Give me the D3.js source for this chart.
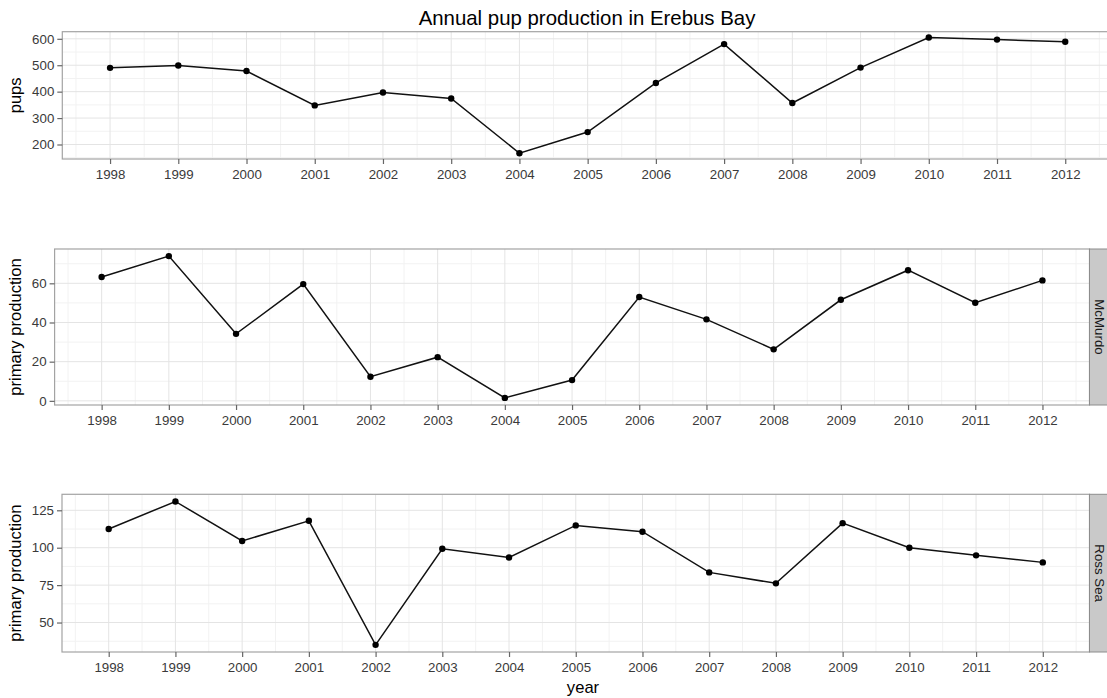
<!DOCTYPE html>
<html>
<head>
<meta charset="UTF-8">
<title>Annual pup production in Erebus Bay</title>
<script src="https://cdn.jsdelivr.net/npm/d3@7"></script>
<style>
  body { margin: 0; background: #fff; overflow: hidden; }
  svg { display: block; font-family: "Liberation Sans", Arial, sans-serif; }
</style>
</head>
<body>
<div id="chart"></div>
<script>
// data
const years = [1998, 1999, 2000, 2001, 2002, 2003, 2004, 2005, 2006, 2007, 2008, 2009, 2010, 2011, 2012];
const pups = [490, 499, 478, 348, 397, 374, 167, 247, 433, 580, 357, 491, 605, 597, 589];
const mcmurdo = [63.2, 73.9, 34.2, 59.6, 12.3, 22.3, 1.5, 10.6, 53.0, 41.6, 26.3, 51.6, 66.7, 50.1, 61.5];
const rossSea = [112.5, 130.9, 104.5, 118.0, 35.1, 99.3, 93.5, 114.9, 110.7, 83.5, 76.2, 116.4, 100.0, 94.9, 90.2];
const pupTicks = [200, 300, 400, 500, 600];
const mcmurdoTicks = [0, 20, 40, 60];
const rossTicks = [50, 75, 100, 125];

const W = 1107, H = 698;
const svg = d3.select("#chart").append("svg").attr("width", W).attr("height", H);

svg.append("text")
  .attr("x", 587).attr("y", 25)
  .attr("text-anchor", "middle")
  .attr("font-size", "20.4px").attr("fill", "#000")
  .text("Annual pup production in Erebus Bay");

const panels = [
  { values: pups, ticks: pupTicks, label: "pups", strip: null,
    left: 62.3, right: 1113, top: 31.7, bottom: 159 },
  { values: mcmurdo, ticks: mcmurdoTicks, label: "primary production", strip: "McMurdo",
    left: 54.6, right: 1089.5, top: 249, bottom: 405 },
  { values: rossSea, ticks: rossTicks, label: "primary production", strip: "Ross Sea",
    left: 62, right: 1089.5, top: 494.3, bottom: 652 }
];

panels.forEach(p => {
  const xExt = d3.extent(years), yExt = d3.extent(p.values);
  const xPad = (xExt[1] - xExt[0]) * 0.05, yPad = (yExt[1] - yExt[0]) * 0.05;
  const x = d3.scaleLinear().domain([xExt[0] - xPad, xExt[1] + xPad]).range([p.left, p.right]);
  const y = d3.scaleLinear().domain([yExt[0] - yPad, yExt[1] + yPad]).range([p.bottom, p.top]);

  const g = svg.append("g");
  const clipId = "clip" + Math.round(p.top);
  g.append("clipPath").attr("id", clipId).append("rect")
    .attr("x", p.left).attr("y", p.top).attr("width", p.right - p.left).attr("height", p.bottom - p.top);

  const plot = g.append("g").attr("clip-path", `url(#${clipId})`);
  plot.append("rect")
    .attr("x", p.left).attr("y", p.top).attr("width", p.right - p.left).attr("height", p.bottom - p.top)
    .attr("fill", "#fff");

  // minor grid
  const step = p.ticks[1] - p.ticks[0];
  const yMinor = d3.range(p.ticks[0] - step / 2, p.ticks[p.ticks.length - 1] + step, step);
  const xMinor = d3.range(years[0] - 0.5, years[years.length - 1] + 1, 1);
  plot.selectAll(".ymin").data(yMinor).join("line")
    .attr("x1", p.left).attr("x2", p.right).attr("y1", d => y(d)).attr("y2", d => y(d))
    .attr("stroke", "#f2f2f2").attr("stroke-width", 1);
  plot.selectAll(".xmin").data(xMinor).join("line")
    .attr("y1", p.top).attr("y2", p.bottom).attr("x1", d => x(d)).attr("x2", d => x(d))
    .attr("stroke", "#f2f2f2").attr("stroke-width", 1);
  // major grid
  plot.selectAll(".ymaj").data(p.ticks).join("line")
    .attr("x1", p.left).attr("x2", p.right).attr("y1", d => y(d)).attr("y2", d => y(d))
    .attr("stroke", "#e4e4e4").attr("stroke-width", 1);
  plot.selectAll(".xmaj").data(years).join("line")
    .attr("y1", p.top).attr("y2", p.bottom).attr("x1", d => x(d)).attr("x2", d => x(d))
    .attr("stroke", "#e4e4e4").attr("stroke-width", 1);

  // series
  const pts = years.map((yr, i) => [yr, p.values[i]]);
  plot.append("path").datum(pts)
    .attr("fill", "none").attr("stroke", "#111").attr("stroke-width", 1.5)
    .attr("d", d3.line().x(d => x(d[0])).y(d => y(d[1])));
  plot.selectAll(".pt").data(pts).join("circle")
    .attr("cx", d => x(d[0])).attr("cy", d => y(d[1])).attr("r", 3.2)
    .attr("fill", "#000");

  // border
  g.append("rect")
    .attr("x", p.left).attr("y", p.top).attr("width", p.right - p.left).attr("height", p.bottom - p.top)
    .attr("fill", "none").attr("stroke", "#a3a3a3").attr("stroke-width", 1.2);

  // axes
  const xAxis = g.append("g").attr("transform", `translate(0,${p.bottom})`)
    .call(d3.axisBottom(x).tickValues(years).tickFormat(d3.format("d")).tickSize(5).tickPadding(6));
  const yAxis = g.append("g").attr("transform", `translate(${p.left},0)`)
    .call(d3.axisLeft(y).tickValues(p.ticks).tickSize(5).tickPadding(3));
  [xAxis, yAxis].forEach(a => {
    a.select(".domain").remove();
    a.selectAll(".tick line").attr("stroke", "#666").attr("stroke-width", 1.2);
    a.selectAll(".tick text").attr("fill", "#3a3a3a").attr("font-size", "13.3px")
      .attr("font-family", "Liberation Sans, Arial, sans-serif");
  });

  // y axis title
  g.append("text")
    .attr("transform", `translate(21,${(p.top + p.bottom) / 2}) rotate(-90)`)
    .attr("text-anchor", "middle").attr("font-size", "16.6px").attr("fill", "#000")
    .text(p.label);

  // facet strip
  if (p.strip) {
    g.append("rect")
      .attr("x", p.right).attr("y", p.top).attr("width", 20).attr("height", p.bottom - p.top)
      .attr("fill", "#c9c9c9").attr("stroke", "#8c8c8c").attr("stroke-width", 1);
    g.append("text")
      .attr("transform", `translate(${p.right + 5},${(p.top + p.bottom) / 2}) rotate(90)`)
      .attr("text-anchor", "middle").attr("font-size", "13.3px").attr("fill", "#1a1a1a")
      .text(p.strip);
  }
});

svg.append("text")
  .attr("x", 583).attr("y", 693)
  .attr("text-anchor", "middle").attr("font-size", "16.6px").attr("fill", "#000")
  .text("year");
</script>
</body>
</html>
